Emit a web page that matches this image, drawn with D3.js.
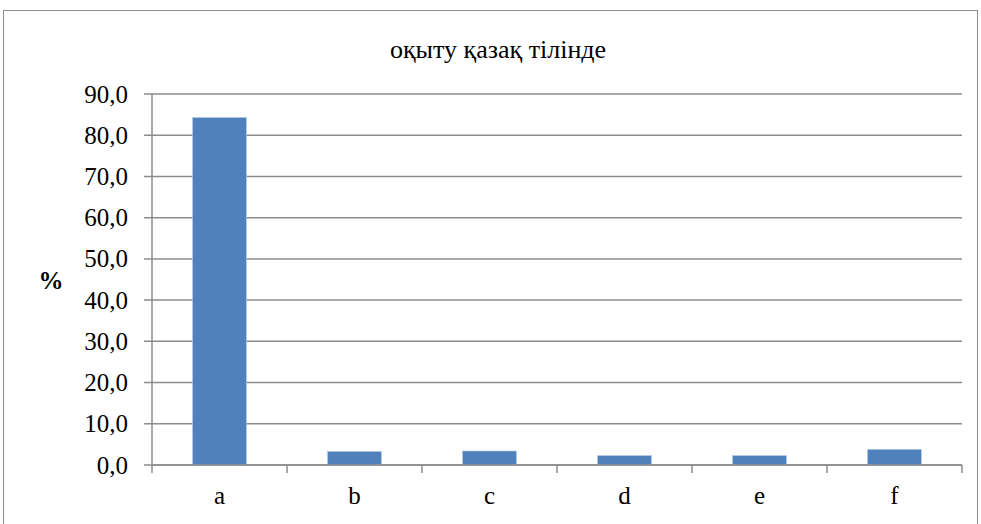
<!DOCTYPE html>
<html>
<head>
<meta charset="utf-8">
<script src="https://cdn.jsdelivr.net/npm/d3@7"></script>
<style>
  html, body { margin: 0; padding: 0; background: #fff; }
</style>
</head>
<body>
<svg id="chart" width="981" height="524"></svg>
<script>
// Share of answers per option, in percent
const categories = ["a", "b", "c", "d", "e", "f"];
const values = [84.3, 3.3, 3.4, 2.3, 2.3, 3.8];
const yTicks = [0, 10, 20, 30, 40, 50, 60, 70, 80, 90];
const title = "оқыту қазақ тілінде";
const yLabel = "%";

const svg = d3.select("#chart");
const W = 981, H = 524;
const margin = { left: 152, right: 19, top: 94, bottom: 59 };
const plotW = W - margin.left - margin.right;
const plotH = H - margin.top - margin.bottom;
const serif = "'Liberation Serif'";

// outer chart frame
svg.append("rect")
  .attr("x", 3.5).attr("y", 10.5)
  .attr("width", 974).attr("height", 540)
  .attr("fill", "#fff").attr("stroke", "#8c8c8c").attr("stroke-width", 1);

const g = svg.append("g").attr("transform", `translate(${margin.left},${margin.top})`);

const x = d3.scaleBand().domain(categories).range([0, plotW]).paddingInner(0.6).paddingOuter(0.3);
const y = d3.scaleLinear().domain([0, 90]).range([plotH, 0]);

const fmt = v => d3.format(".1f")(v).replace(".", ",");

// horizontal gridlines
g.append("g").selectAll("line").data(yTicks).join("line")
  .attr("x1", -8).attr("x2", plotW)
  .attr("y1", d => y(d)).attr("y2", d => y(d))
  .attr("stroke", "#8c8c8c").attr("stroke-width", 1.5);

// y axis labels
const yAxis = d3.axisLeft(y).tickValues(yTicks).tickFormat(fmt).tickSize(0).tickPadding(24);
const ya = g.append("g").call(yAxis);
ya.select(".domain").remove();
ya.selectAll("text").style("font-size", "25px").style("font-family", serif).attr("fill", "#000");

// y axis line
g.append("line").attr("x1", 0).attr("x2", 0).attr("y1", 0).attr("y2", plotH)
  .attr("stroke", "#8c8c8c").attr("stroke-width", 1.5);

// bars
g.append("g").selectAll("rect").data(values).join("rect")
  .attr("x", (d, i) => x(categories[i]))
  .attr("width", x.bandwidth())
  .attr("y", d => y(d))
  .attr("height", d => y(0) - y(d))
  .attr("fill", "#4f81bd")
  .attr("stroke", "#b9cde5").attr("stroke-width", 0.6);

// x axis with boundary ticks
const step = plotW / categories.length;
const xa = g.append("g").attr("transform", `translate(0,${plotH})`);
xa.append("line").attr("x1", 0).attr("x2", plotW).attr("y1", 0).attr("y2", 0)
  .attr("stroke", "#8c8c8c").attr("stroke-width", 1.5);
xa.selectAll("line.tk").data(d3.range(categories.length + 1)).join("line")
  .attr("class", "tk")
  .attr("x1", i => i * step).attr("x2", i => i * step)
  .attr("y1", 0).attr("y2", 8)
  .attr("stroke", "#8c8c8c").attr("stroke-width", 1.5);
xa.selectAll("text").data(categories).join("text")
  .attr("x", d => x(d) + x.bandwidth() / 2)
  .attr("y", 39)
  .attr("text-anchor", "middle")
  .style("font-size", "25px").style("font-family", serif)
  .text(d => d);

// title
svg.append("text").attr("x", 498).attr("y", 58)
  .attr("text-anchor", "middle")
  .style("font-size", "26px").style("font-family", serif).text(title);

// y axis title
svg.append("text").attr("x", 51).attr("y", 289)
  .attr("text-anchor", "middle").attr("font-weight", "bold")
  .style("font-size", "25px").style("font-family", serif).text(yLabel);
</script>
</body>
</html>
